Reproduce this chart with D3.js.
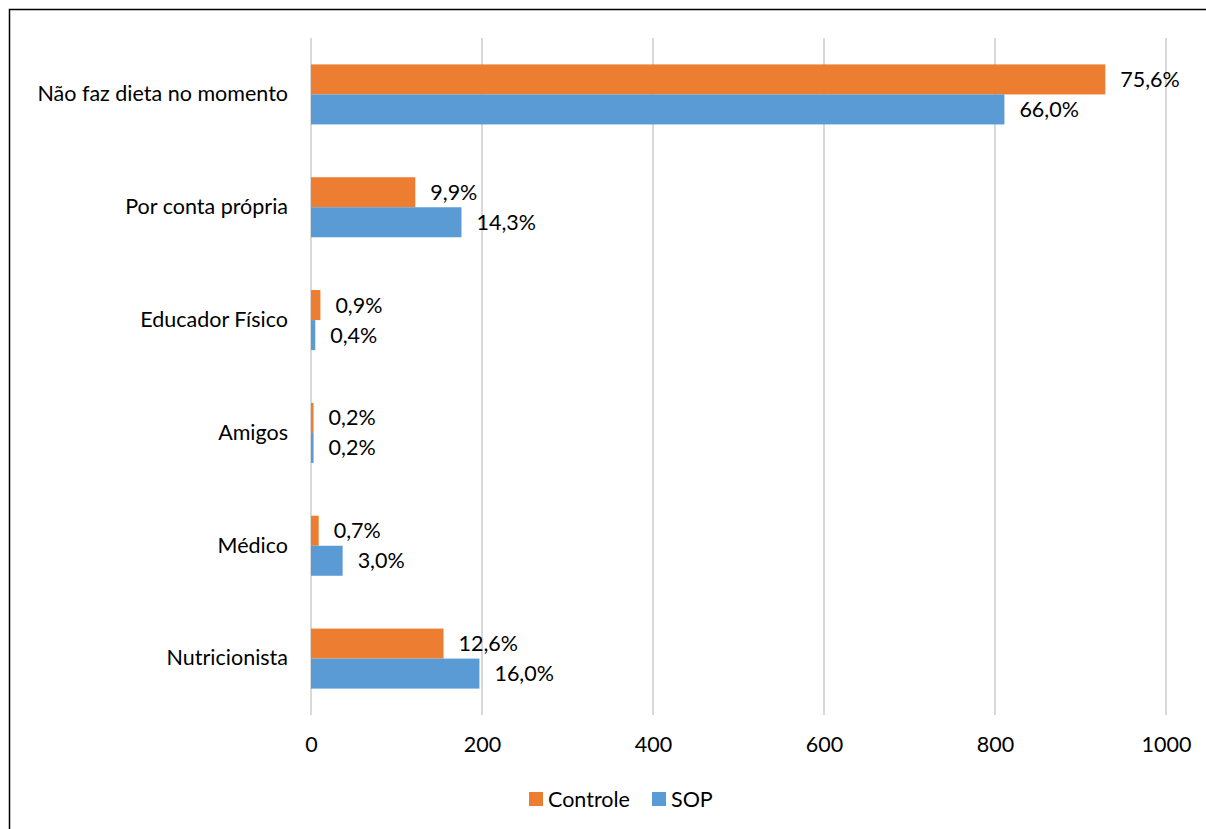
<!DOCTYPE html>
<html><head><meta charset="utf-8">
<script src="https://cdn.jsdelivr.net/npm/d3@7"></script>
<style>body{margin:0;background:#fff}</style>
</head><body>
<script>
const categories = ["Não faz dieta no momento","Por conta própria","Educador Físico","Amigos","Médico","Nutricionista"];
const seriesNames = ["Controle","SOP"];
const controleValues = [929,122,11,3,9,155];
const sopValues = [811,176,5,3,37,197];
const controleLabels = ["75,6%","9,9%","0,9%","0,2%","0,7%","12,6%"];
const sopLabels = ["66,0%","14,3%","0,4%","0,2%","3,0%","16,0%"];
const xTicks = [0,200,400,600,800,1000];
const colors = ["#ED7D31","#5B9BD5"];

const W=1206,H=829;
const svg=d3.select("body").append("svg").attr("width",W).attr("height",H);
const font="Lato, 'Open Sans', sans-serif";
const fs=21.5;
svg.append("rect").attr("x",9.5).attr("y",9.5).attr("width",W+10).attr("height",H+10)
  .attr("fill","none").attr("stroke","#000").attr("stroke-width",1.5);

const x=d3.scaleLinear().domain([0,1000]).range([311,1166]);
const y=d3.scaleBand().domain(categories).range([38,715]).paddingInner(0.468).paddingOuter(0.234);
const y1=d3.scaleBand().domain(seriesNames).range([0,y.bandwidth()]);

// gridlines
svg.append("g").selectAll("line").data(xTicks).join("line")
  .attr("x1",d=>x(d)).attr("x2",d=>x(d)).attr("y1",38).attr("y2",715)
  .attr("stroke","#d9d9d9").attr("stroke-width",2);

// x axis
const xAxis=svg.append("g").attr("transform","translate(0,715)")
  .call(d3.axisBottom(x).tickValues(xTicks).tickSize(0).tickPadding(22).tickFormat(d3.format("d")));
xAxis.select(".domain").remove();
xAxis.selectAll("text").attr("font-family",font).attr("font-size",fs).attr("fill","#000");

// y axis
const yAxis=svg.append("g").attr("transform","translate(311,0)")
  .call(d3.axisLeft(y).tickSize(0).tickPadding(23));
yAxis.select(".domain").remove();
yAxis.selectAll("text").attr("font-family",font).attr("font-size",fs).attr("fill","#000");

const data=[controleValues,sopValues];
const labels=[controleLabels,sopLabels];
seriesNames.forEach((s,si)=>{
  const g=svg.append("g");
  g.selectAll("rect").data(categories).join("rect")
    .attr("x",x(0)).attr("y",c=>y(c)+y1(s))
    .attr("width",(c,i)=>x(data[si][i])-x(0)).attr("height",y1.bandwidth())
    .attr("fill",colors[si]);
  g.selectAll("text").data(categories).join("text")
    .attr("x",(c,i)=>x(data[si][i])+15).attr("y",c=>y(c)+y1(s)+y1.bandwidth()/2)
    .attr("dy","0.35em").attr("font-family",font).attr("font-size",fs).attr("fill","#000")
    .text((c,i)=>labels[si][i]);
});

// legend
const leg=svg.append("g");
const legX=[529,652];
seriesNames.forEach((s,i)=>{
  leg.append("rect").attr("x",legX[i]).attr("y",792).attr("width",14).attr("height",14).attr("fill",colors[i]);
  leg.append("text").attr("x",legX[i]+19).attr("y",799).attr("dy","0.35em")
    .attr("font-family",font).attr("font-size",fs).attr("fill","#000").text(s);
});
</script>
</body></html>
